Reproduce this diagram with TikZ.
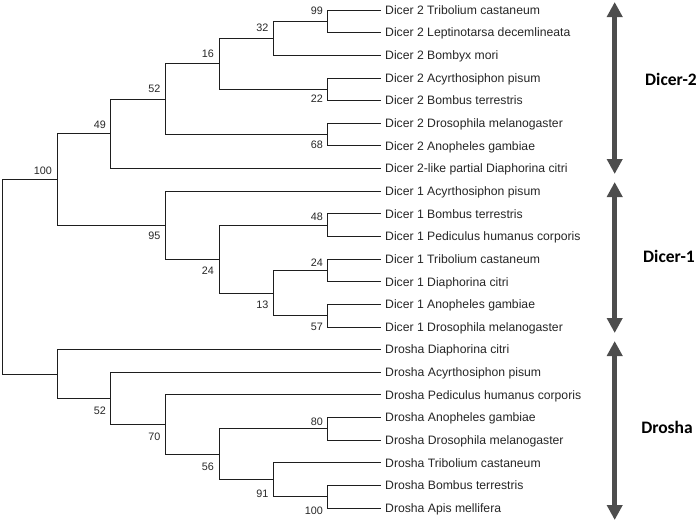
\documentclass[tikz,border=0pt]{standalone}
\usepackage{fontspec}
\setmainfont{Liberation Sans}
\newfontfamily\cladefont{Carlito}
\usetikzlibrary{arrows.meta}
\definecolor{arrowgray}{RGB}{77,77,77}
\definecolor{treeline}{RGB}{30,30,30}
\tikzset{
  branch/.style={draw=treeline, line width=0.8pt},
  leaf/.style={anchor=west, inner xsep=4pt, inner ysep=0pt, text height=8.7pt, text depth=0pt,
    font=\fontsize{12.2}{14}\selectfont, text=black!85},
  bs/.style={anchor=east, inner sep=0pt, font=\fontsize{10.8}{12}\selectfont, text=black!85},
  clade/.style={inner sep=0pt, text height=11.3pt, text depth=0pt,
    font=\cladefont\bfseries\fontsize{17.5}{20}\selectfont, text=black},
  bigarrow/.style={draw=arrowgray, line width=5pt,
    {Triangle[width=15pt,length=15pt]}-{Triangle[width=15pt,length=15pt]}}
}
\begin{document}
\begin{tikzpicture}[x=1pt,y=-1pt]
\useasboundingbox (0,0) rectangle (697,522);
% leaves
\foreach \i/\t in {0/Dicer 2 Tribolium castaneum,1/Dicer 2 Leptinotarsa decemlineata,2/Dicer 2 Bombyx mori,
  3/Dicer 2 Acyrthosiphon pisum,4/Dicer 2 Bombus terrestris,5/Dicer 2 Drosophila melanogaster,
  6/Dicer 2 Anopheles gambiae,7/Dicer 2-like partial Diaphorina citri,8/Dicer 1 Acyrthosiphon pisum,
  9/Dicer 1 Bombus terrestris,10/Dicer 1 Pediculus humanus corporis,11/Dicer 1 Tribolium castaneum,
  12/Dicer 1 Diaphorina citri,13/Dicer 1 Anopheles gambiae,14/Dicer 1 Drosophila melanogaster,
  15/Drosha Diaphorina citri,16/Drosha Acyrthosiphon pisum,17/Drosha Pediculus humanus corporis,
  18/Drosha Anopheles gambiae,19/Drosha Drosophila melanogaster,20/Drosha Tribolium castaneum,
  21/Drosha Bombus terrestris,22/Drosha Apis mellifera}{
  \pgfmathsetmacro{\yy}{10+22.64*\i}
  \node[leaf] (l\i) at (381,\yy) {\t};
}
% internal nodes
\coordinate (a99) at (327,21.32);
\coordinate (a32) at (273,38.3);
\coordinate (a22) at (327,89.24);
\coordinate (a16) at (219,63.77);
\coordinate (a68) at (327,134.52);
\coordinate (a52) at (165,99.15);
\coordinate (a49) at (110,133.81);
\coordinate (a48) at (327,225.08);
\coordinate (a24a) at (327,270.36);
\coordinate (a57) at (327,315.64);
\coordinate (a13) at (273,293.0);
\coordinate (a24b) at (219,259.04);
\coordinate (a95) at (165,225.08);
\coordinate (a100) at (57,179.45);
\coordinate (d80) at (327,428.84);
\coordinate (d100) at (327,496.76);
\coordinate (d91) at (273,479.78);
\coordinate (d56) at (219,454.31);
\coordinate (d70) at (165,424.6);
\coordinate (d52) at (110,398.42);
\coordinate (dr) at (57,374.01);
\coordinate (root) at (2.5,276.73);
% branches
\draw[branch] (a99) |- (l0.west) (a99) |- (l1.west);
\draw[branch] (a32) |- (a99) (a32) |- (l2.west);
\draw[branch] (a22) |- (l3.west) (a22) |- (l4.west);
\draw[branch] (a16) |- (a32) (a16) |- (a22);
\draw[branch] (a68) |- (l5.west) (a68) |- (l6.west);
\draw[branch] (a52) |- (a16) (a52) |- (a68);
\draw[branch] (a49) |- (a52) (a49) |- (l7.west);
\draw[branch] (a48) |- (l9.west) (a48) |- (l10.west);
\draw[branch] (a24a) |- (l11.west) (a24a) |- (l12.west);
\draw[branch] (a57) |- (l13.west) (a57) |- (l14.west);
\draw[branch] (a13) |- (a24a) (a13) |- (a57);
\draw[branch] (a24b) |- (a48) (a24b) |- (a13);
\draw[branch] (a95) |- (l8.west) (a95) |- (a24b);
\draw[branch] (a100) |- (a49) (a100) |- (a95);
\draw[branch] (d80) |- (l18.west) (d80) |- (l19.west);
\draw[branch] (d100) |- (l21.west) (d100) |- (l22.west);
\draw[branch] (d91) |- (l20.west) (d91) |- (d100);
\draw[branch] (d56) |- (d80) (d56) |- (d91);
\draw[branch] (d70) |- (l17.west) (d70) |- (d56);
\draw[branch] (d52) |- (l16.west) (d52) |- (d70);
\draw[branch] (dr) |- (l15.west) (dr) |- (d52);
\draw[branch] (root) |- (a100) (root) |- (dr);
% bootstrap values
\node[bs] (b99) at (323,11) {99};
\node[bs] (b32) at (268.5,28) {32};
\node[bs] (b16) at (214,54) {16};
\node[bs] (b52) at (160.5,89) {52};
\node[bs] (b49) at (106,125) {49};
\node[bs] (b100) at (52,171) {100};
\node[bs] (b22) at (323,99) {22};
\node[bs] (b68) at (323,145) {68};
\node[bs] (b95) at (160.5,236) {95};
\node[bs] (b24b) at (214,271) {24};
\node[bs] (b48) at (323,217) {48};
\node[bs] (b24a) at (323,263) {24};
\node[bs] (b13) at (268.5,305) {13};
\node[bs] (b57) at (323,327) {57};
\node[bs] (b52d) at (106,411) {52};
\node[bs] (b70) at (160.5,437) {70};
\node[bs] (b56) at (214,467) {56};
\node[bs] (b80) at (323,422) {80};
\node[bs] (b91) at (268.5,494) {91};
\node[bs] (b100d) at (323,511) {100};
% clade arrows
\coordinate (ar1a) at (614.7,2);
\coordinate (ar1b) at (614.7,174);
\coordinate (ar2a) at (614.7,182);
\coordinate (ar2b) at (614.7,333);
\coordinate (ar3a) at (614.7,341);
\coordinate (ar3b) at (614.7,520);
\draw[bigarrow] (ar1a) -- (ar1b);
\draw[bigarrow] (ar2a) -- (ar2b);
\draw[bigarrow] (ar3a) -- (ar3b);
\node[clade] (c2) at (671,80) {Dicer-2};
\node[clade] (c1) at (669,257) {Dicer-1};
\node[clade] (cd) at (667,428) {Drosha};
\end{tikzpicture}
\end{document}
